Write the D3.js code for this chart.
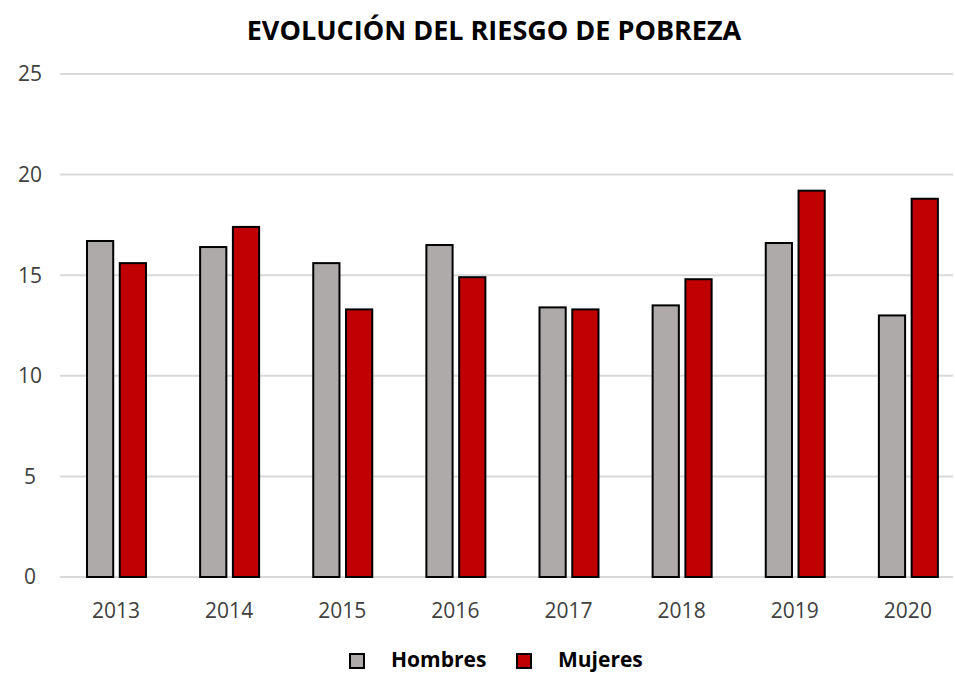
<!DOCTYPE html>
<html>
<head>
<meta charset="utf-8">
<script src="https://cdn.jsdelivr.net/npm/d3@7"></script>
<style>
  body { margin: 0; background: #fff; }
  svg { font-family: "Open Sans", "Noto Sans", sans-serif; }
</style>
</head>
<body>
<div id="chart"></div>
<script>
// chart data
const years = ["2013", "2014", "2015", "2016", "2017", "2018", "2019", "2020"];
const hombres = [16.7, 16.4, 15.6, 16.5, 13.4, 13.5, 16.6, 13.0];
const mujeres = [15.6, 17.4, 13.3, 14.9, 13.3, 14.8, 19.2, 18.8];
const yTicks = [0, 5, 10, 15, 20, 25];
const seriesNames = ["Hombres", "Mujeres"];
const colors = ["#aeaaaa", "#c00000"];

const width = 955, height = 674;
const margin = {top: 74, right: 0, bottom: 97, left: 60};

let svg = d3.select("#chart").append("svg")
    .attr("width", width)
    .attr("height", height);

let x = d3.scaleBand()
    .domain(years)
    .range([margin.left, 965])
    .paddingInner(0)
    .paddingOuter(0);

let y = d3.scaleLinear()
    .domain([0, 25])
    .range([height - margin.bottom, margin.top]);

// gridlines
svg.append("g")
  .selectAll("line")
  .data(yTicks)
  .enter().append("line")
    .attr("x1", margin.left)
    .attr("x2", 953)
    .attr("y1", d => y(d))
    .attr("y2", d => y(d))
    .attr("stroke", "#d9d9d9")
    .attr("stroke-width", 2);

// y tick labels
svg.append("g")
  .selectAll("text")
  .data(yTicks)
  .enter().append("text")
    .attr("x", 30)
    .attr("y", d => y(d))
    .attr("dy", "0.35em")
    .attr("text-anchor", "middle")
    .attr("font-size", 21)
    .attr("fill", "#404040")
    .text(d => d);

// bars
let x1 = d3.scaleBand()
    .domain([0, 1])
    .range([27, 86])
    .paddingInner(0.2);

let groups = svg.append("g")
  .selectAll("g")
  .data(years)
  .enter().append("g")
    .attr("transform", d => "translate(" + x(d) + ",0)");

groups.selectAll("rect")
    .data((d, i) => [hombres[i], mujeres[i]])
    .enter().append("rect")
    .attr("x", (d, j) => x1(j))
    .attr("width", x1.bandwidth())
    .attr("y", d => y(d))
    .attr("height", d => y(0) - y(d))
    .attr("fill", (d, j) => colors[j])
    .attr("stroke", "#000")
    .attr("stroke-width", 2);

// x labels
svg.append("g")
  .selectAll("text")
  .data(years)
  .enter().append("text")
    .attr("x", d => x(d) + 56)
    .attr("y", 618)
    .attr("text-anchor", "middle")
    .attr("font-size", 21)
    .attr("fill", "#404040")
    .text(d => d);

// title
svg.append("text")
    .attr("x", 494)
    .attr("y", 40)
    .attr("text-anchor", "middle")
    .attr("font-size", 27)
    .attr("font-weight", "bold")
    .attr("fill", "#000")
    .text("EVOLUCIÓN DEL RIESGO DE POBREZA");

// legend
const legendX = [350, 517];
let legend = svg.append("g")
  .selectAll("g")
  .data(seriesNames)
  .enter().append("g")
    .attr("transform", (d, i) => "translate(" + legendX[i] + ",654)");

legend.append("rect")
    .attr("width", 14)
    .attr("height", 14)
    .attr("fill", (d, i) => colors[i])
    .attr("stroke", "#000")
    .attr("stroke-width", 2);

legend.append("text")
    .attr("x", 41)
    .attr("y", 13)
    .attr("font-size", 21)
    .attr("font-weight", "bold")
    .attr("fill", "#000")
    .text(d => d);
</script>
</body>
</html>
